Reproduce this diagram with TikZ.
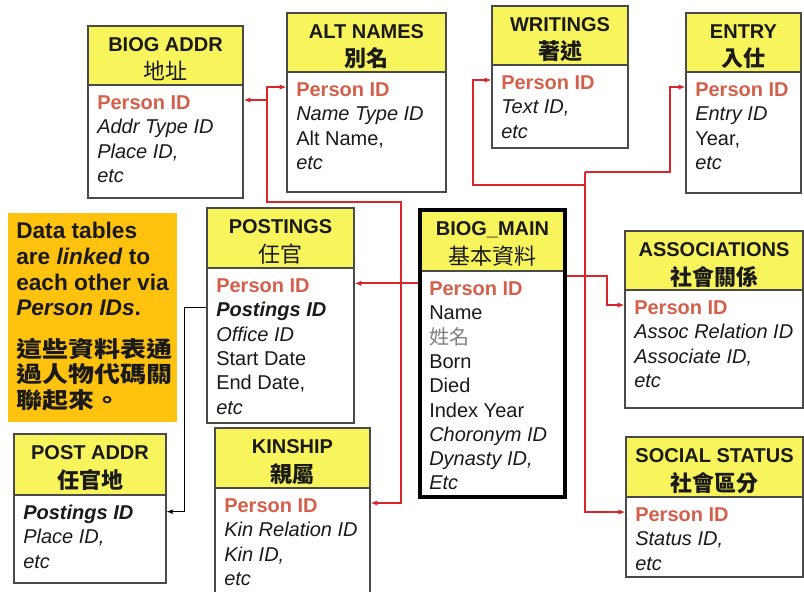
\documentclass[tikz,border=0pt]{standalone}
\usepackage{fontspec}
\usepackage{graphicx}
\setmainfont{Liberation Sans}
\newfontfamily\cjk{Noto Sans CJK TC}
\usetikzlibrary{fit,arrows.meta}
\definecolor{hdrc}{HTML}{F8F45C}
\definecolor{notec}{HTML}{FFC20E}
\definecolor{pidc}{HTML}{D4604B}
\definecolor{linkc}{HTML}{D8262B}
\definecolor{edgec}{HTML}{4A4A4A}
\definecolor{txtc}{HTML}{1A1A1A}
\newcommand\pid{{\bfseries\color{pidc}Person ID}}
\tikzset{
  hdrbox/.style={draw=edgec, line width=0.9pt, fill=hdrc, inner sep=0pt},
  bodybox/.style={draw=edgec, line width=0.9pt, fill=white, inner sep=0pt},
  mainframe/.style={draw=black, line width=2.4pt, inner sep=0pt},
  notebox/.style={fill=notec, inner sep=0pt},
  ttl/.style={font=\fontsize{15}{18}\selectfont\bfseries, text=txtc, inner sep=0pt},
  ttlcjk/.style={font=\fontsize{16.5}{18}\selectfont\cjk, text=txtc, inner sep=0pt},
  rowtxt/.style={font=\fontsize{15}{18}\selectfont, text=txtc, inner sep=0pt},
  notetxt/.style={font=\fontsize{17}{20}\selectfont\bfseries, text=txtc, inner sep=0pt},
  notecjk/.style={font=\fontsize{19.5}{22}\selectfont\cjk\bfseries, text=txtc, inner sep=0pt},
  link/.style={draw=linkc, line width=1.5pt, -{Latex[length=5pt,width=4pt]}},
  plink/.style={draw=black, line width=0.7pt, -{Latex[length=4.5pt,width=3.6pt]}},
  bus/.style={draw=linkc, line width=1.5pt}
}
% #1 name #2 left #3 top #4 right #5 header bottom #6 bottom #7 title #8 cjk title #9 rows
\newcommand\dbtab[9]{%
  \node[hdrbox, fit={(#2,#3) (#4,#5)}] (#1-h) {};
  \node[bodybox, fit={(#2,#5) (#4,#6)}] (#1-b) {};
  \node[ttl, anchor=base] (#1-t) at ({(#2+#4)/2},{#3+25.5}) {#7};
  \node[ttlcjk, anchor=base] (#1-c) at ({(#2+#4)/2},{#3+54}) {#8};
  \foreach \rowt [count=\i] in {#9} {
    \node[rowtxt, anchor=base west] (#1-\i) at ({#2+9},{#5+24.5+24.3*(\i-1)}) {\rowt};
  }
  \coordinate (#1-y) at ([yshift=2pt]#1-1.center);
}
\newcommand\squash[1]{\scalebox{1}[0.85]{#1}}
\begin{document}
\begin{tikzpicture}[x=0.75pt,y=-0.75pt]
\useasboundingbox (0,0) rectangle (804,592);
\clip (0,0) rectangle (804,592);

% note box
\node[notebox, fit={(8,213) (177,422)}] (note) {};
\node[notetxt, anchor=base west] (n1) at (16,238) {Data tables};
\node[notetxt, anchor=base west] (n2) at (16,264) {are \textit{linked} to};
\node[notetxt, anchor=base west] (n3) at (16,290) {each other via};
\node[notetxt, anchor=base west] (n4) at (16,315) {\textit{Person IDs}.};
\node[notecjk, anchor=base west] (n5) at (16,357) {\squash{這些資料表通}};
\node[notecjk, anchor=base west] (n6) at (16,382) {\squash{過人物代碼關}};
\node[notecjk, anchor=base west] (n7) at (16,408) {\squash{聯起來。}};

% tables
\dbtab{ba}{88}{26}{243}{85}{198}{BIOG ADDR}{地址}%
  {\pid, {\itshape Addr Type ID}, {\itshape Place ID,}, {\itshape etc}}
\dbtab{alt}{287}{13}{446}{72}{192}{ALT NAMES}{\bfseries 別名}%
  {\pid, {\itshape Name Type ID}, {Alt Name,}, {\itshape etc}}
\dbtab{wri}{492}{6}{628}{65}{148}{WRITINGS}{\bfseries 著述}%
  {\pid, {\itshape Text ID,}, {\itshape etc}}
\dbtab{ent}{686}{13}{801}{72}{193}{ENTRY}{\bfseries 入仕}%
  {\pid, {\itshape Entry ID}, {Year,}, {\itshape etc}}
\dbtab{post}{207}{208}{354}{268}{423}{POSTINGS}{任官}%
  {\pid, {\bfseries\itshape Postings ID}, {\itshape Office ID}, {Start Date}, {End Date,}, {\itshape etc}}
\dbtab{main}{420}{210}{565}{271}{497}{BIOG\_MAIN}{基本資料}%
  {\pid, Name, {\cjk\color{gray}姓名}, Born, Died, {Index Year}, {\itshape Choronym ID}, {\itshape Dynasty ID,}, {\itshape Etc}}
\node[mainframe, fit={(420,210) (565,497)}] (main) {};
\dbtab{asc}{625}{231}{803}{290}{408}{ASSOCIATIONS}{\bfseries 社會關係}%
  {\pid, {\itshape Assoc Relation ID}, {\itshape Associate ID,}, {\itshape etc}}
\dbtab{soc}{626}{437}{803}{497}{577}{SOCIAL STATUS}{\bfseries 社會區分}%
  {\pid, {\itshape Status ID,}, {\itshape etc}}
\dbtab{pad}{14}{434}{166}{495}{583}{POST ADDR}{\bfseries 任官地}%
  {{\bfseries\itshape Postings ID}, {\itshape Place ID,}, {\itshape etc}}
\dbtab{kin}{215}{428}{370}{488}{598}{KINSHIP}{\bfseries 親屬}%
  {\pid, {\itshape Kin Relation ID}, {\itshape Kin ID,}, {\itshape etc}}

% connector helper coordinates
\coordinate (mY) at ([yshift=4pt]main-1.center);
\coordinate (mR) at ([yshift=-4pt]main.north east |- main-b.north);
\coordinate (lbus) at (401,202);
\coordinate (lbus2) at (267,202);
\coordinate (rbus) at (585,172);
\coordinate (entx) at (670,172);
\coordinate (wric) at (473,185);
\coordinate (ascx) at (607,276);
\coordinate (pax) at (184,300);
\coordinate (pstY) at ([yshift=3pt]post-2.center);

% left network
\draw[link] (main.west |- mY) -- (post-b.east |- mY);
\draw[link] (lbus |- mY) -- (lbus) -- (lbus2) |- (alt-b.west |- alt-y);
\draw[link] (lbus2 |- ba-y) -- (ba-b.east |- ba-y);
\draw[link] (lbus |- mY) |- (kin-b.east |- kin-y);

% right network
\draw[bus] (main.east |- mR) -- (rbus |- mR);
\draw[link] (rbus) |- (soc-b.west |- soc-y);
\draw[link] (rbus) -- (entx) |- (ent-b.west |- ent-y);
\draw[link] (rbus |- wric) -- (wric) |- (wri-b.west |- wri-y);
\draw[link] (rbus |- mR) -- (ascx |- mR) |- (asc-b.west |- asc-y);

% postings -> post addr
\draw[plink] (post-b.west |- pstY) -- (pax |- pstY) |- (pad-b.east |- pad-y);
\end{tikzpicture}
\end{document}
